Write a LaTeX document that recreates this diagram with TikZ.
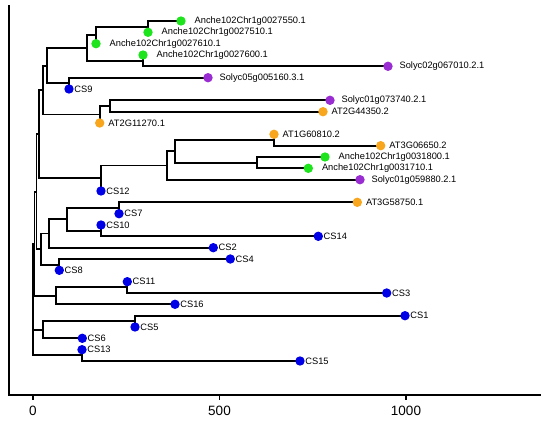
\documentclass[tikz,border=0pt]{standalone}
\usepackage{fontspec}
\setmainfont{Liberation Sans}
\usetikzlibrary{backgrounds}
\definecolor{anchegreen}{RGB}{30,228,30}
\definecolor{solycpurple}{RGB}{153,45,210}
\definecolor{atorange}{RGB}{247,166,30}
\definecolor{csblue}{RGB}{0,0,230}

\begin{document}
\begin{tikzpicture}[x=1pt,y=-1pt]
	\tikzstyle{every node}=[font=\fontsize{9.3pt}{11pt}\selectfont]
	\tikzstyle{every label}=[inner sep=0pt]
	\tikzstyle{dot}=[circle, inner sep=0pt, minimum size=9.4pt]
	\tikzset{
		anchedot/.style={dot, fill=anchegreen, label={[xshift=8.6pt]right:#1}},
		solycdot/.style={dot, fill=solycpurple, label={[xshift=6.5pt]right:#1}},
		atdot/.style={dot, fill=atorange, label={[xshift=3.6pt]right:#1}},
		csdot/.style={dot, fill=csblue, label={[xshift=0.3pt]right:#1}}
	}
	\tikzstyle{branch}=[line width=1.8pt]
	\tikzstyle{axis}=[line width=1.8pt]
	\tikzstyle{ticklabel}=[font=\fontsize{13.5pt}{16pt}\selectfont]
	
	\useasboundingbox (0,0) rectangle (550,423);
	
	\node[anchedot=Anche102Chr1g0027550.1] (a27550) at (181,21) {};
	\node[anchedot=Anche102Chr1g0027510.1] (a27510) at (148,32.3) {};
	\node[anchedot=Anche102Chr1g0027610.1] (a27610) at (96,43.7) {};
	\node[anchedot=Anche102Chr1g0027600.1] (a27600) at (143,55) {};
	\node[solycdot=Solyc02g067010.2.1] (s067010) at (388,66.3) {};
	\node[solycdot=Solyc05g005160.3.1] (s005160) at (208,77.7) {};
	\node[csdot=CS9] (cs9) at (69,89) {};
	\node[solycdot=Solyc01g073740.2.1] (s073740) at (330,100.3) {};
	\node[atdot=AT2G44350.2] (at44350) at (323,111.7) {};
	\node[atdot=AT2G11270.1] (at11270) at (99.7,123) {};
	\node[atdot=AT1G60810.2] (at60810) at (274,134.3) {};
	\node[atdot=AT3G06650.2] (at06650) at (380.7,145.7) {};
	\node[anchedot=Anche102Chr1g0031800.1] (a31800) at (325,157) {};
	\node[anchedot=Anche102Chr1g0031710.1] (a31710) at (308.3,168.3) {};
	\node[solycdot=Solyc01g059880.2.1] (s059880) at (360,179.7) {};
	\node[csdot=CS12] (cs12) at (101,191) {};
	\node[atdot=AT3G58750.1] (at58750) at (357.3,202.3) {};
	\node[csdot=CS7] (cs7) at (119,213.7) {};
	\node[csdot=CS10] (cs10) at (101,225) {};
	\node[csdot=CS14] (cs14) at (318.3,236.3) {};
	\node[csdot=CS2] (cs2) at (213.3,247.7) {};
	\node[csdot=CS4] (cs4) at (230.3,259) {};
	\node[csdot=CS8] (cs8) at (59.3,270.3) {};
	\node[csdot=CS11] (cs11) at (127.3,281.7) {};
	\node[csdot=CS3] (cs3) at (386.7,293) {};
	\node[csdot=CS16] (cs16) at (175,304.3) {};
	\node[csdot=CS1] (cs1) at (405,315.7) {};
	\node[csdot=CS5] (cs5) at (135,327) {};
	\node[csdot=CS6] (cs6) at (82.3,338.3) {};
	\node[csdot=CS13] (cs13) at (82,349.7) {};
	\node[csdot=CS15] (cs15) at (300,361) {};
	
	\coordinate (nA) at (148,26.7);
	\coordinate (nB) at (96,35.2);
	\coordinate (nC) at (143,60.7);
	\coordinate (nBC) at (87,47.9);
	\coordinate (nE) at (69,83.3);
	\coordinate (nD) at (47,65.6);
	\coordinate (nH) at (110,106);
	\coordinate (nG) at (99.7,114.5);
	\coordinate (nF) at (43,90);
	\coordinate (nL) at (274,140);
	\coordinate (nM) at (257,162.7);
	\coordinate (nK) at (175,151.3);
	\coordinate (nJ) at (167,165.5);
	\coordinate (nI) at (101,178.2);
	\coordinate (nN) at (39,134.1);
	\coordinate (nO) at (119,208);
	\coordinate (nP) at (101,230.7);
	\coordinate (nQ) at (67,219.3);
	\coordinate (nR) at (49,233.5);
	\coordinate (nT) at (59.3,264.7);
	\coordinate (nS) at (41,249.1);
	\coordinate (nN2) at (36.5,191.6);
	\coordinate (nV) at (127.3,287.3);
	\coordinate (nU) at (56,295.8);
	\coordinate (nN3) at (34.5,243.7);
	\coordinate (nX) at (135,321.3);
	\coordinate (nW) at (43,329.8);
	\coordinate (nY) at (82,355.3);
	\coordinate (root) at (33,299.5);
	
	\begin{pgfonlayer}{background}
		\draw[branch] (nA) |- (a27550.center) (nA) |- (a27510.center);
		\draw[branch] (nB) |- (nA) (nB) |- (a27610.center);
		\draw[branch] (nC) |- (a27600.center) (nC) |- (s067010.center);
		\draw[branch] (nBC) |- (nB) (nBC) |- (nC);
		\draw[branch] (nE) |- (s005160.center) (nE) |- (cs9.center);
		\draw[branch] (nD) |- (nBC) (nD) |- (nE);
		\draw[branch] (nH) |- (s073740.center) (nH) |- (at44350.center);
		\draw[branch] (nG) |- (nH) (nG) |- (at11270.center);
		\draw[branch] (nF) |- (nD) (nF) |- (nG);
		\draw[branch] (nL) |- (at60810.center) (nL) |- (at06650.center);
		\draw[branch] (nM) |- (a31800.center) (nM) |- (a31710.center);
		\draw[branch] (nK) |- (nL) (nK) |- (nM);
		\draw[branch] (nJ) |- (nK) (nJ) |- (s059880.center);
		\draw[branch] (nI) |- (nJ) (nI) |- (cs12.center);
		\draw[branch] (nN) |- (nF) (nN) |- (nI);
		\draw[branch] (nO) |- (at58750.center) (nO) |- (cs7.center);
		\draw[branch] (nP) |- (cs10.center) (nP) |- (cs14.center);
		\draw[branch] (nQ) |- (nO) (nQ) |- (nP);
		\draw[branch] (nR) |- (nQ) (nR) |- (cs2.center);
		\draw[branch] (nT) |- (cs4.center) (nT) |- (cs8.center);
		\draw[branch] (nS) |- (nR) (nS) |- (nT);
		\draw[branch] (nN2) |- (nN) (nN2) |- (nS);
		\draw[branch] (nV) |- (cs11.center) (nV) |- (cs3.center);
		\draw[branch] (nU) |- (nV) (nU) |- (cs16.center);
		\draw[branch] (nN3) |- (nN2) (nN3) |- (nU);
		\draw[branch] (nX) |- (cs1.center) (nX) |- (cs5.center);
		\draw[branch] (nW) |- (nX) (nW) |- (cs6.center);
		\draw[branch] (nY) |- (cs13.center) (nY) |- (cs15.center);
		\draw[branch] (root) |- (nN3) (root) |- (nW) (root) |- (nY);
	\end{pgfonlayer}
	
	\draw[axis] (9,5) -- (9,395) -- (541,395);
	\draw[axis] (33,395) -- (33,399.5);
	\draw[axis] (219.5,395) -- (219.5,399.5);
	\draw[axis] (406,395) -- (406,399.5);
	\node[ticklabel] (t0) at (33,410.5) {0};
	\node[ticklabel] (t500) at (219.5,410.5) {500};
	\node[ticklabel] (t1000) at (406,410.5) {1000};
	
\end{tikzpicture}
\end{document}
